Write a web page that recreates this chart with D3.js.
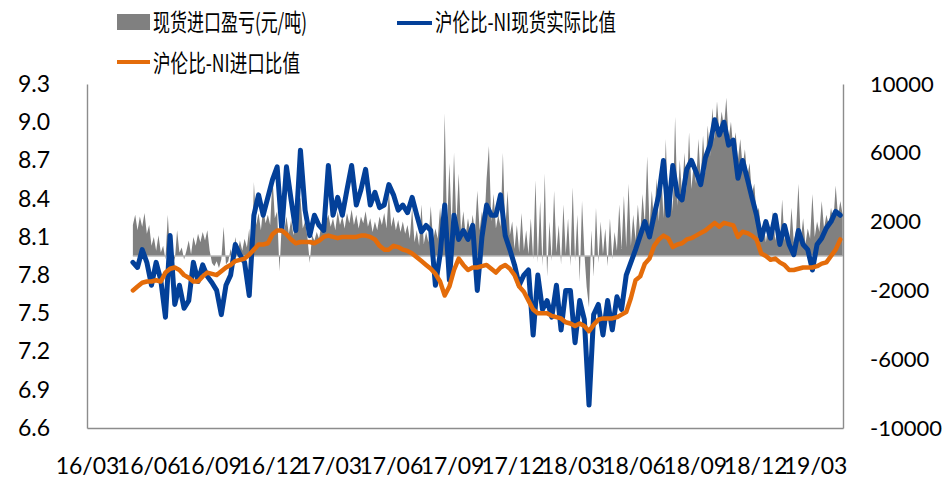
<!DOCTYPE html>
<html><head><meta charset="utf-8">
<script src="https://cdn.jsdelivr.net/npm/d3@7"></script>
<style>
html,body{margin:0;padding:0;background:#fff;}
svg{display:block;}
</style></head>
<body><svg id="chart" width="948" height="477"></svg>
<script>
// ---- data (weekly from 2016-05-09; gray twice a week) ----
const startDate = new Date(2016, 4, 9);
const xTickLabels = ["16/03","16/06","16/09","16/12","17/03","17/06","17/09","17/12","18/03","18/06","18/09","18/12","19/03"];
const leftTicks = [6.6,6.9,7.2,7.5,7.8,8.1,8.4,8.7,9.0,9.3];
const rightTicks = [-10000,-6000,-2000,2000,6000,10000];
const seriesNames = ["现货进口盈亏(元/吨)","沪伦比-NI现货实际比值","沪伦比-NI进口比值"];

// 沪伦比-NI现货实际比值 (left axis)
const spotRatio = [
7.90,7.86,8.00,7.90,7.72,7.90,7.76,7.47,8.11,7.57,7.72,7.54,7.60,7.90,7.75,7.88,7.79,7.74,7.68,7.49,
7.72,7.80,8.04,7.96,7.90,7.64,8.27,8.43,8.27,8.41,8.55,8.65,8.15,8.65,8.39,8.15,8.78,8.31,8.11,8.27,
8.19,8.15,8.66,8.27,8.41,8.27,8.47,8.66,8.35,8.47,8.63,8.35,8.45,8.33,8.35,8.51,8.43,8.31,8.35,8.29,
8.41,8.27,8.14,8.19,8.15,7.72,7.96,8.35,7.76,8.27,8.08,8.15,8.08,8.19,7.68,8.10,8.35,8.27,8.27,8.43,
8.11,8.00,7.88,7.72,7.80,7.84,7.33,7.80,7.53,7.60,7.47,7.72,7.37,7.68,7.68,7.27,7.60,7.45,6.78,7.49,
7.57,7.33,7.60,7.37,7.63,7.53,7.80,7.90,8.00,8.11,8.22,8.10,8.27,8.43,8.70,8.27,8.66,8.43,8.39,8.63,
8.70,8.61,8.51,8.72,8.82,9.02,8.90,9.00,8.82,8.86,8.56,8.70,8.56,8.41,8.27,8.08,8.22,8.09,8.27,8.04,
8.19,8.04,7.96,8.15,8.04,8.00,7.84,8.04,8.09,8.17,8.22,8.30,8.27];

// 沪伦比-NI进口比值 (left axis)
const importRatio = [
7.68,7.71,7.74,7.75,7.75,7.76,7.75,7.82,7.85,7.86,7.84,7.80,7.78,7.75,7.75,7.79,7.82,7.81,7.80,7.83,
7.86,7.88,7.91,7.92,7.93,7.96,8.00,8.04,8.04,8.05,8.12,8.15,8.15,8.12,8.08,8.05,8.06,8.06,8.06,8.05,
8.07,8.10,8.11,8.10,8.09,8.10,8.10,8.10,8.10,8.11,8.11,8.10,8.08,8.03,8.00,8.00,8.03,8.02,8.00,7.99,
7.97,7.94,7.91,7.88,7.85,7.81,7.75,7.64,7.71,7.84,7.93,7.88,7.84,7.86,7.86,7.87,7.88,7.85,7.82,7.86,
7.88,7.85,7.80,7.71,7.67,7.60,7.53,7.50,7.50,7.50,7.48,7.47,7.46,7.43,7.42,7.40,7.42,7.40,7.36,7.41,
7.45,7.46,7.46,7.46,7.47,7.49,7.51,7.62,7.76,7.79,7.89,7.93,8.03,8.08,8.11,8.09,8.02,8.04,8.05,8.08,
8.09,8.11,8.13,8.15,8.18,8.21,8.18,8.21,8.20,8.19,8.10,8.14,8.13,8.11,8.08,7.97,7.95,7.92,7.93,7.90,
7.88,7.84,7.84,7.85,7.86,7.86,7.86,7.87,7.89,7.90,7.95,8.00,8.08];

// 现货进口盈亏 (元/吨, right axis), twice a week
const importProfit = [
1800,2400,1500,2300,1700,2500,1300,1800,600,1100,300,1200,200,600,-200,2400,100,400,-300,1500,
200,500,-200,300,900,100,1100,600,1300,800,1400,900,1500,300,-400,-600,-300,-700,-200,1700,
-500,-300,400,-200,1100,200,900,300,1000,500,1600,-900,4300,1800,2500,1500,2800,1900,2400,1800,
4600,2200,2600,-900,2000,1400,2300,1300,2100,1200,2200,2800,3400,1600,2000,1100,-400,1200,900,1400,
1000,1800,1300,2000,2400,1700,2200,1500,2600,1800,2300,1600,2500,1900,2700,1800,2400,1600,2300,1900,
2600,1700,2200,1400,2000,1500,2300,1800,2500,1600,3800,1700,2300,1500,2100,1400,2000,1300,1800,1000,
2800,800,1500,600,3000,700,1400,800,2900,900,1600,1000,2800,1100,8300,1500,5400,1600,6000,1800,
4800,1400,2600,1200,2200,1300,2400,1400,3800,1500,2600,1700,4500,6400,2000,3600,1600,2400,1700,6000,
1500,3800,1200,2000,400,1800,200,2500,300,1500,100,2200,-200,4400,-400,3200,-600,4800,-1200,2000,
-300,3800,200,1800,-500,3000,100,2200,-600,4000,-300,2400,-1500,3200,200,-1800,-3000,1500,-1200,2800,
-400,2000,100,1600,-600,2200,-200,1400,300,3000,400,3500,500,4200,600,2400,900,3000,1200,3600,
1800,5800,1700,3800,1800,4500,2000,5200,2200,6800,2400,4800,2600,8100,2900,5600,3500,6000,3800,7200,
3900,5400,4200,6800,4500,7000,4800,7600,5800,8600,6800,9000,7200,8400,7500,9200,6800,7800,6200,7200,
5600,6800,5200,6200,4600,5400,3600,4200,2400,2800,1200,2000,800,1800,1000,2600,900,1600,700,3300,
900,1800,600,2800,800,1500,4200,900,2200,700,1600,1000,3600,1100,2000,1400,3200,1600,2400,1800,
2800,2000,4100,2300,3200,2400];

// ---- chart ----
const svg = d3.select("#chart");
const L = 87, R = 843, T = 84, B = 428;
const x = d3.scaleTime().domain([new Date(2016,2,1), new Date(2019,3,12)]).range([L,R]);
const yL = d3.scaleLinear().domain([6.6,9.3]).range([B,T]);
const yR = d3.scaleLinear().domain([-10000,10000]).range([B,T]);

const weekDates = spotRatio.map((_,i)=>d3.timeDay.offset(startDate, 7*i));
const grayDates = importProfit.map((_,i)=>d3.timeHour.offset(startDate, 84*i));
const tickDates = xTickLabels.map(s=>new Date(2000+ +s.slice(0,2), +s.slice(3)-1, 1));

const gray = "#808080", blue = "#034099", orange = "#E46C0A", axisCol = "#8c8c8c";

// gray area
svg.append("path")
  .datum(importProfit.map((v,i)=>({d:grayDates[i], v})))
  .attr("fill", gray)
  .attr("d", d3.area().x(p=>x(p.d)).y0(yR(0)).y1(p=>yR(p.v)));
svg.append("line")
  .attr("x1", x(grayDates[0])).attr("x2", x(grayDates[grayDates.length-1]))
  .attr("y1", yR(0)).attr("y2", yR(0))
  .attr("stroke", "#b8b8b8").attr("stroke-width", 1.5);

// lines
const lineGen = d3.line().x(p=>x(p.d)).y(p=>yL(p.v)).curve(d3.curveLinear);
svg.append("path")
  .datum(spotRatio.map((v,i)=>({d:weekDates[i], v})))
  .attr("fill","none").attr("stroke", blue).attr("stroke-width", 5)
  .attr("stroke-linejoin","round").attr("stroke-linecap","round")
  .attr("d", lineGen);
svg.append("path")
  .datum(importRatio.map((v,i)=>({d:weekDates[i], v})))
  .attr("fill","none").attr("stroke", orange).attr("stroke-width", 4.5)
  .attr("stroke-linejoin","round").attr("stroke-linecap","round")
  .attr("d", lineGen);

// axes
const tickFont = "Lato, 'Open Sans', sans-serif";
const gL = svg.append("g").attr("transform", `translate(${L},0)`)
  .call(d3.axisLeft(yL).tickValues(leftTicks).tickFormat(d3.format(".1f")).tickSize(0).tickPadding(37));
const gR = svg.append("g").attr("transform", `translate(${R},0)`)
  .call(d3.axisRight(yR).tickValues(rightTicks).tickFormat(d=>String(d)).tickSize(0).tickPadding(27));
const gB = svg.append("g").attr("transform", `translate(0,${B})`)
  .call(d3.axisBottom(x).tickValues(tickDates).tickFormat((d,i)=>xTickLabels[i]).tickSize(0).tickPadding(30));
[gL,gR,gB].forEach(g=>{
  g.select(".domain").attr("stroke", axisCol).attr("stroke-width", 1.4);
  g.selectAll("text").attr("fill","#000").style("font-family", tickFont);
});
gL.selectAll("text").style("font-size","23px");
gR.selectAll("text").style("font-size","22px");
gB.selectAll("text").style("font-size","23px");

// legend
const cjk = "'Noto Sans CJK SC', 'Noto Sans', sans-serif";
const leg = svg.append("g");
leg.append("rect").attr("x",117).attr("y",14).attr("width",33).attr("height",16).attr("fill",gray);
leg.append("text").attr("x",153).attr("y",22).attr("dy","0.36em")
  .attr("textLength",154).attr("lengthAdjust","spacingAndGlyphs")
  .style("font-family",cjk).style("font-size","24px").text(seriesNames[0]);
leg.append("line").attr("x1",397).attr("x2",432).attr("y1",23).attr("y2",23)
  .attr("stroke",blue).attr("stroke-width",4);
leg.append("text").attr("x",435).attr("y",22).attr("dy","0.36em")
  .attr("textLength",181).attr("lengthAdjust","spacingAndGlyphs")
  .style("font-family",cjk).style("font-size","24px").text(seriesNames[1]);
leg.append("line").attr("x1",117).attr("x2",150).attr("y1",62).attr("y2",62)
  .attr("stroke",orange).attr("stroke-width",4);
leg.append("text").attr("x",153).attr("y",63).attr("dy","0.36em")
  .attr("textLength",147).attr("lengthAdjust","spacingAndGlyphs")
  .style("font-family",cjk).style("font-size","24px").text(seriesNames[2]);
</script>
</body></html>
